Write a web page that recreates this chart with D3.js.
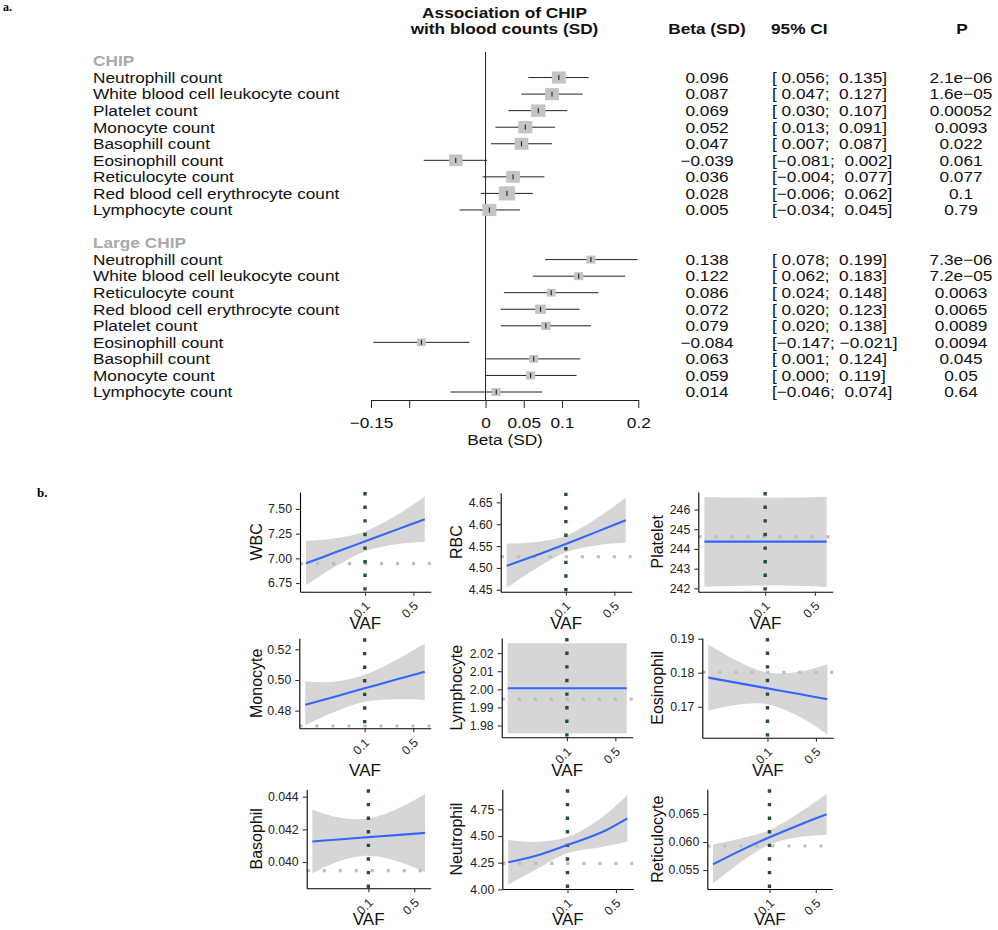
<!DOCTYPE html>
<html><head><meta charset="utf-8">
<script src="https://cdn.jsdelivr.net/npm/d3@7"></script>
<style>
body{margin:0;background:#fff}
text{font-family:"Liberation Sans",Arial,Helvetica,sans-serif}
</style>
</head><body>
<svg id="c" width="998" height="930" xmlns="http://www.w3.org/2000/svg"></svg>
<script>
// ---------------- DATA: panel a (forest plot) ----------------
const chipLabels = ["Neutrophill count","White blood cell leukocyte count","Platelet count","Monocyte count","Basophill count","Eosinophill count","Reticulocyte count","Red blood cell erythrocyte count","Lymphocyte count"];
const chipBeta = [0.096,0.087,0.069,0.052,0.047,-0.039,0.036,0.028,0.005];
const chipLo   = [0.056,0.047,0.030,0.013,0.007,-0.081,-0.004,-0.006,-0.034];
const chipHi   = [0.135,0.127,0.107,0.091,0.087,0.002,0.077,0.062,0.045];
const chipP    = ["2.1e\u221206","1.6e\u221205","0.00052","0.0093","0.022","0.061","0.077","0.1","0.79"];

const largeLabels = ["Neutrophill count","White blood cell leukocyte count","Reticulocyte count","Red blood cell erythrocyte count","Platelet count","Eosinophill count","Basophill count","Monocyte count","Lymphocyte count"];
const largeBeta = [0.138,0.122,0.086,0.072,0.079,-0.084,0.063,0.059,0.014];
const largeLo   = [0.078,0.062,0.024,0.020,0.020,-0.147,0.001,0.000,-0.046];
const largeHi   = [0.199,0.183,0.148,0.123,0.138,-0.021,0.124,0.119,0.074];
const largeP    = ["7.3e\u221206","7.2e\u221205","0.0063","0.0065","0.0089","0.0094","0.045","0.05","0.64"];

const forestTicks = [-0.15,-0.1,0,0.05,0.1,0.2];
const forestTickLabels = ["\u22120.15","","0","0.05","0.1","0.2"];
const forestDomain = [-0.15,0.2];

// ---------------- DATA: panel b (VAF small multiples) ----------------
const panelNames = ["WBC","RBC","Platelet","Monocyte","Lymphocyte","Eosinophil","Basophil","Neutrophil","Reticulocyte"];
const vafPts = [0.014,0.035,0.1,0.3,0.73];
const fitVals = [
  [6.950,7.053,7.172,7.296,7.396],
  [4.505,4.5272,4.5546,4.5847,4.609],
  [244.37,244.37,244.37,244.37,244.37],
  [0.4838,0.4888,0.4946,0.5006,0.5054],
  [2.0006,2.0006,2.0006,2.0006,2.0006],
  [0.17856,0.17709,0.1754,0.17364,0.17221],
  [0.04125,0.04138,0.04152,0.04166,0.04178],
  [4.254,4.315,4.416,4.530,4.666],
  [0.05602,0.05838,0.06084,0.06318,0.06495]
];
const fitLo = [
  [6.724,6.906,7.072,7.146,7.166],
  [4.4545,4.4959,4.5356,4.5525,4.5575],
  [242.09,242.12,242.14,242.12,242.08],
  [0.4705,0.4788,0.4858,0.48744,0.48695],
  [1.9757,1.9757,1.9757,1.9757,1.9757],
  [0.16884,0.1705,0.17075,0.1669,0.16191],
  [0.0393,0.04003,0.04038,0.04000,0.03938],
  [4.046,4.185,4.341,4.396,4.447],
  [0.05252,0.0562,0.05956,0.06093,0.06131]
];
const fitHi = [
  [7.176,7.200,7.272,7.446,7.626],
  [4.5555,4.5585,4.5736,4.6169,4.6605],
  [246.64,246.61,246.60,246.61,246.65],
  [0.4991,0.4988,0.5034,0.51376,0.52385],
  [2.0254,2.0254,2.0254,2.0254,2.0254],
  [0.18828,0.18368,0.18005,0.18038,0.18251],
  [0.0432,0.04273,0.04266,0.04332,0.04418],
  [4.462,4.445,4.491,4.664,4.885],
  [0.05952,0.06056,0.06212,0.06543,0.06859]
];
const refLevel = [6.946,4.5256,244.62,0.470,1.9946,0.1801,0.03947,4.244,0.05929];
const yDomains = [[6.662,7.672],[4.4457,4.672],[241.83,246.89],[0.4685,0.5272],[1.97348,2.02834],[0.16088,0.19021],[0.03839,0.04445],[4.0035,4.938],[0.05161,0.06941]];
const yTicks = [[6.75,7,7.25,7.5],[4.45,4.5,4.55,4.6,4.65],[242,243,244,245,246],[0.48,0.5,0.52],[1.98,1.99,2,2.01,2.02],[0.17,0.18,0.19],[0.04,0.042,0.044],[4,4.25,4.5,4.75],[0.055,0.06,0.065]];
const yTickFmt = [".2f",".2f","d",".2f",".2f",".2f",".3f",".2f",".3f"];
const vafTicks = [0.1,0.5];
const vafTickLabels = ["0.1","0.5"];
const vafThreshold = 0.1;

// ---------------- LAYOUT ----------------
const svg = d3.select("#c");
const S = 1.15; // horizontal stretch of panel-a text
const rowY = i => 61 + i*16.55;
const fx = d3.scaleLinear().domain(forestDomain).range([371,638.3]);

function atext(x,y,s,anchor,weight,fill,size){
  return svg.append("text")
    .attr("transform",`translate(${x},${y}) scale(${S},1)`)
    .attr("text-anchor",anchor||"start")
    .style("font-size",(size||15)+"px")
    .style("font-weight",weight||"normal")
    .style("white-space","pre")
    .attr("fill",fill||"#111")
    .text(s);
}

// panel letters
svg.append("text").attr("x",3).attr("y",11).style("font-family","'Liberation Serif',serif").style("font-weight","bold").style("font-size","12px").text("a.");
svg.append("text").attr("x",37).attr("y",497).style("font-family","'Liberation Serif',serif").style("font-weight","bold").style("font-size","13px").text("b.");

// headers
atext(504.5,18,"Association of CHIP","middle","bold");
atext(504.5,34,"with blood counts (SD)","middle","bold");
atext(707,34,"Beta (SD)","middle","bold");
atext(771,34,"95% CI","start","bold");
atext(962,34,"P","middle","bold");

const fmt3 = d3.format(".3f");
const ciStr = (lo,hi)=>"[" + (lo<0?"\u2212":" ") + fmt3(Math.abs(lo)) + "; " + (hi<0?"\u2212":" ") + fmt3(Math.abs(hi)) + "]";

const groups = [
  {title:"CHIP", start:0, labels:chipLabels, beta:chipBeta, lo:chipLo, hi:chipHi, p:chipP},
  {title:"Large CHIP", start:11, labels:largeLabels, beta:largeBeta, lo:largeLo, hi:largeHi, p:largeP}
];

// zero line
svg.append("line").attr("x1",fx(0)).attr("x2",fx(0)).attr("y1",52).attr("y2",400).attr("stroke","#222").attr("stroke-width",1);

groups.forEach(g=>{
  atext(93,rowY(g.start)+5.3,g.title,"start","bold","#aaaaaa");
  g.labels.forEach((lab,k)=>{
    const y = rowY(g.start+1+k);
    atext(93,y+5.3,lab);
    atext(707,y+5.3,fmt3(g.beta[k]),"middle");
    atext(772,y+5.3,ciStr(g.lo[k],g.hi[k]),"start");
    atext(961,y+5.3,g.p[k],"middle");
    svg.append("line").attr("x1",fx(g.lo[k])).attr("x2",fx(g.hi[k])).attr("y1",y).attr("y2",y).attr("stroke","#222").attr("stroke-width",1);
    const side = 0.96/(g.hi[k]-g.lo[k]);
    svg.append("rect").attr("x",fx(g.beta[k])-side*S/2).attr("y",y-side/2).attr("width",side*S).attr("height",side).attr("fill","#c4c4c4");
    svg.append("line").attr("x1",fx(g.beta[k])).attr("x2",fx(g.beta[k])).attr("y1",y-2.5).attr("y2",y+2.5).attr("stroke","#111").attr("stroke-width",1);
  });
});

// forest axis
const fAxis = svg.append("g").attr("transform","translate(0,400)")
  .call(d3.axisBottom(fx).tickValues(forestTicks).tickFormat((d,i)=>forestTickLabels[i]).tickSize(8).tickSizeOuter(0));
fAxis.select(".domain").attr("stroke","#222");
fAxis.selectAll(".tick line").attr("stroke","#222");
fAxis.selectAll(".tick text").attr("y",28).attr("dy",0).attr("fill","#111")
  .style("font-size","15px").attr("font-family",null)
  .attr("transform",`scale(${S},1)`);
atext(505,445,"Beta (SD)","middle");

// ---------------- panel b ----------------
const panelBox = [
  [300,430.7,492,591.7],[500.7,631.7,492.7,591.7],[698.3,832.7,492,591.7],
  [299.3,430.7,638.3,728.3],[501.7,632.7,638,737.3],[702.3,833.3,638,737.7],
  [306.7,430.7,789.3,888.3],[502.3,633.3,789.3,889],[707.3,832.3,789.3,889]
];
const yTitleX = [256.5,456.5,657];
const vafTitleY = [623,770,918.5];

const lx0 = Math.log10(d3.min(vafPts)), lx1 = Math.log10(d3.max(vafPts));
const ext = 0.05*(lx1-lx0);
const xDom = [Math.pow(10,lx0-ext),Math.pow(10,lx1+ext)];

panelNames.forEach((name,i)=>{
  const [l,r,t,b] = panelBox[i];
  const row = Math.floor(i/3), col = i%3;
  const xs = d3.scaleLog().domain(xDom).range([l,r]);
  const ys = d3.scaleLinear().domain(yDomains[i]).range([b,t]);
  const g = svg.append("g");
  const pts = vafPts.map((v,k)=>({v, f:fitVals[i][k], lo:fitLo[i][k], hi:fitHi[i][k]}));
  const curve = d3.curveCatmullRom.alpha(0.5);
  g.append("path").datum(pts)
    .attr("d",d3.area().x(d=>xs(d.v)).y0(d=>ys(d.lo)).y1(d=>ys(d.hi)).curve(curve))
    .attr("fill","#999999").attr("fill-opacity",0.4);
  g.append("line").attr("x1",l).attr("x2",r).attr("y1",ys(refLevel[i])).attr("y2",ys(refLevel[i]))
    .attr("stroke","#bdbdbd").attr("stroke-width",3.2).attr("stroke-dasharray","3.2,12.8");
  g.append("line").attr("x1",xs(vafThreshold)).attr("x2",xs(vafThreshold)).attr("y1",t).attr("y2",b)
    .attr("stroke","#264d45").attr("stroke-width",3.4).attr("stroke-dasharray","3.4,10.2");
  g.append("path").datum(pts)
    .attr("d",d3.line().x(d=>xs(d.v)).y(d=>ys(d.f)).curve(curve))
    .attr("fill","none").attr("stroke","#3366FF").attr("stroke-width",2.1);
  const ya = g.append("g").attr("transform",`translate(${l},0)`)
    .call(d3.axisLeft(ys).tickValues(yTicks[i]).tickFormat(d3.format(yTickFmt[i])).tickSize(4).tickSizeOuter(0).tickPadding(4));
  const xa = g.append("g").attr("transform",`translate(0,${b})`)
    .call(d3.axisBottom(xs).tickValues(vafTicks).tickFormat((d,k)=>vafTickLabels[k]).tickSize(4).tickSizeOuter(0));
  [ya,xa].forEach(a=>{
    a.select(".domain").attr("stroke","#000").attr("stroke-width",1.1);
    a.selectAll(".tick line").attr("stroke","#333").attr("stroke-width",1.1);
    a.selectAll(".tick text").attr("fill","#222").style("font-size","12.3px").attr("font-family",null);
  });
  xa.selectAll(".tick text").attr("y",0).attr("dy",0).attr("text-anchor","end")
    .attr("transform","translate(5,15) rotate(-45)");
  g.append("text").attr("transform",`translate(${yTitleX[col]},${(t+b)/2}) rotate(-90)`)
    .attr("text-anchor","middle").attr("dy","0.35em").style("font-size","16px").attr("fill","#111").text(name);
  g.append("text").attr("x",(l+r)/2).attr("y",vafTitleY[row]).attr("dy","0.36em")
    .attr("text-anchor","middle").style("font-size","17px").attr("fill","#111").text("VAF");
});
</script>
</body></html>
